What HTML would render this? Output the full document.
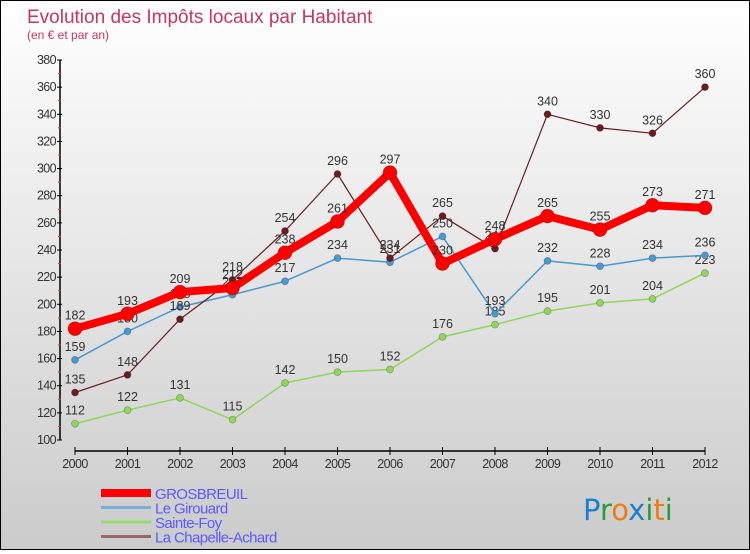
<!DOCTYPE html>
<html><head><meta charset="utf-8"><style>
body{margin:0;width:750px;height:550px;overflow:hidden;font-family:"Liberation Sans",sans-serif}
#wrap{position:absolute;left:0;top:0;width:748px;height:548px;border:1px solid #000;background:linear-gradient(#fff,#cbcbcb)}
</style></head><body>
<div id="wrap">
<svg id="chart" width="748" height="548"></svg>
</div>
<script>
const years=[2000,2001,2002,2003,2004,2005,2006,2007,2008,2009,2010,2011,2012];
const grosbreuil=[182,193,209,212,238,261,297,230,248,265,255,273,271];
const girouard=[159,180,198,207,217,234,231,250,193,232,228,234,236];
const sainteFoy=[112,122,131,115,142,150,152,176,185,195,201,204,223];
const chapelle=[135,148,189,218,254,296,234,265,241,340,330,326,360];
const yTicks=[100,120,140,160,180,200,220,240,260,280,300,320,340,360,380];
const seriesNames=["GROSBREUIL","Le Girouard","Sainte-Foy","La Chapelle-Achard"];

const NS="http://www.w3.org/2000/svg";
const svg=document.getElementById('chart');
function x(i){return 74+i*(704-74)/12;}
function y(v){return 439-(v-100)*(380/280);}
function mk(t,a,p){const e=document.createElementNS(NS,t);for(const k in a)e.setAttribute(k,a[k]);(p||svg).appendChild(e);return e;}

let t=mk('text',{x:26,y:22,'font-size':19,fill:'#c8365f'});t.textContent='Evolution des Impôts locaux par Habitant';


t=mk('text',{x:26,y:38,'font-size':12,fill:'#c8365f'});t.textContent='(en € et par an)';



let ax=mk('line',{x1:59,y1:y(380),x2:59,y2:y(100),stroke:'#000','stroke-width':1.5});


yTicks.forEach(v=>{
  mk('line',{x1:56,y1:y(v),x2:61,y2:y(v),stroke:'#000'});
  if(v<380) mk('line',{x1:57,y1:y(v+10),x2:60,y2:y(v+10),stroke:'#e33'});
  const l=mk('text',{x:55,y:y(v)+4,'font-size':12.5,fill:'#333','text-anchor':'end','letter-spacing':'-0.6'});l.textContent=v;
  
  
});
ax=mk('line',{x1:x(0),y1:450,x2:x(12),y2:450,stroke:'#000','stroke-width':1.5});


years.forEach((yr,i)=>{
  mk('line',{x1:x(i),y1:446,x2:x(i),y2:454,stroke:'#000'});
  const l=mk('text',{x:x(i),y:467,'font-size':12.5,fill:'#333','text-anchor':'middle','letter-spacing':'-0.6'});l.textContent=yr;
  
  
});

function series(data,color,w,r,name){
  const g=mk('g',{});
  
  
  mk('polyline',{points:data.map((v,i)=>x(i)+','+y(v)).join(' '),fill:'none',stroke:color,'stroke-width':w,'stroke-linejoin':'round'},g);
  data.forEach((v,i)=>{
    const c=mk('circle',{cx:x(i),cy:y(v),r:r,fill:color,stroke:'rgba(0,0,0,0.25)','stroke-width':0.8},g);
    
    
    const l=mk('text',{x:x(i),y:y(v)-9,'font-size':12.5,fill:'#333','text-anchor':'middle'},g);l.textContent=v;
    
    
  });
}
series(sainteFoy,'#8fd65a',1.5,3.5,'sainte-foy');
series(girouard,'#4a98d0',1.5,3.5,'le-girouard');
series(chapelle,'#6b1c1c',1.2,3.5,'la-chapelle-achard');
series(grosbreuil,'#f00',8,7,'grosbreuil');

const lc=['#f00','#7aaed6','#98dc70','#9a6666'],lw=[8,3,3,3];
seriesNames.forEach((n,i)=>{
  const g=mk('g',{});
  
  
  const yy=492+i*14.5;
  mk('line',{x1:100,y1:yy,x2:150,y2:yy,stroke:lc[i],'stroke-width':lw[i]},g);
  const l=mk('text',{x:154,y:yy+6,'font-size':15,fill:'#5a5aff','letter-spacing':'-0.6'},g);l.textContent=n;
});
const lg=mk('text',{x:582,y:519,'font-size':29,'font-family':'DejaVu Sans, sans-serif'});


[['P','#1a7fd0'],['r','#2a9a3a'],['o','#f07c10'],['x','#1a7fd0'],['i','#2a9a3a'],['t','#f07c10'],['i','#2a9a3a']].forEach(([c,f])=>{const s=mk('tspan',{fill:f},lg);s.textContent=c;});
</script>
</body></html>
